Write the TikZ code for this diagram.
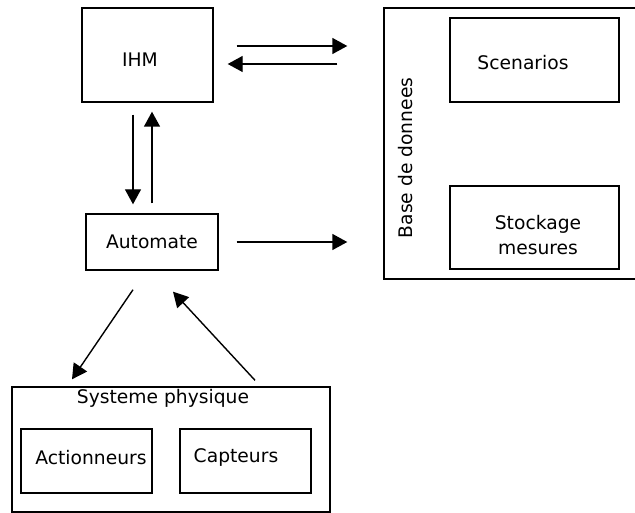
\documentclass[tikz,border=0pt]{standalone}
\usepackage{fontspec}
\setmainfont{DejaVu Sans}
\usetikzlibrary{positioning, calc, arrows.meta}

\begin{document}
\begin{tikzpicture}[x=1pt, y=-1pt, line width=1.4pt,
    box/.style = {draw, rectangle, inner sep=0pt},
    txt/.style = {inner sep=0pt, align=center, font=\fontsize{18.7}{25}\selectfont},
    arr/.style = {-{Triangle[length=15pt, width=16pt]}}]
                        \useasboundingbox (0,0) rectangle (635,513);
                        % boites
                        \node[box, minimum width=131pt, minimum height=94pt,
                              label={[txt, xshift=-7.5pt, yshift=-5pt]center:IHM}] (ihm) at (147.5,55) {};
                        \node[box, txt, minimum width=132pt, minimum height=56pt] (auto) at (152,242) {Automate};
                        \node[box, minimum width=256pt, minimum height=271pt] (bdd) at (512,143.5) {};
                        \node[box, minimum width=169pt, minimum height=84pt,
                              label={[txt, xshift=-11.5pt, yshift=-3pt]center:Scenarios}] (scen) at (534.5,60) {};
                        \node[box, minimum width=169pt, minimum height=83pt,
                              label={[txt, xshift=3.5pt, yshift=-7.5pt]center:Stockage\\mesures}] (stock) at (534.5,227.5) {};
                        \node[txt, rotate=90] (bddlbl) at (406,158) {Base de donnees};
                        \node[box, minimum width=318pt, minimum height=125pt] (sys) at (171,449.5) {};
                        \node[txt] (syslbl) at (163,398) {Systeme physique};
                        \node[box, minimum width=131pt, minimum height=64pt,
                              label={[txt, xshift=4.5pt, yshift=3pt]center:Actionneurs}] (act) at (86.5,461) {};
                        \node[box, minimum width=131pt, minimum height=64pt,
                              label={[txt, xshift=-9.5pt, yshift=3pt]center:Capteurs}] (capt) at (245.5,461) {};
                        % fleches
                        \draw[arr, shorten <=23pt, shorten >=36pt] ([yshift=9pt]ihm.east) -- ([yshift=9pt]ihm.east -| bdd.west);
                        \draw[arr, shorten <=46pt, shorten >=14pt] ([yshift=-9pt]ihm.east -| bdd.west) -- ([yshift=-9pt]ihm.east);
                        \draw[arr, shorten <=12pt, shorten >=9pt] ([xshift=-14.5pt]ihm.south) -- ([xshift=-14.5pt]ihm.south |- auto.north);
                        \draw[arr, shorten <=10pt, shorten >=9pt] ([xshift=4.5pt]ihm.south |- auto.north) -- ([xshift=4.5pt]ihm.south);
                        \draw[arr, shorten <=18pt, shorten >=36pt] (auto.east) -- (auto.east -| bdd.west);
                        \draw[arr] ([xshift=-19pt, yshift=-19pt]auto.south) -- ([xshift=-99pt, yshift=7pt]sys.north);
                        \draw[arr] ([xshift=84pt, yshift=6pt]sys.north) -- ([xshift=21pt, yshift=-21pt]auto.south);
                    \end{tikzpicture}
\end{document}
